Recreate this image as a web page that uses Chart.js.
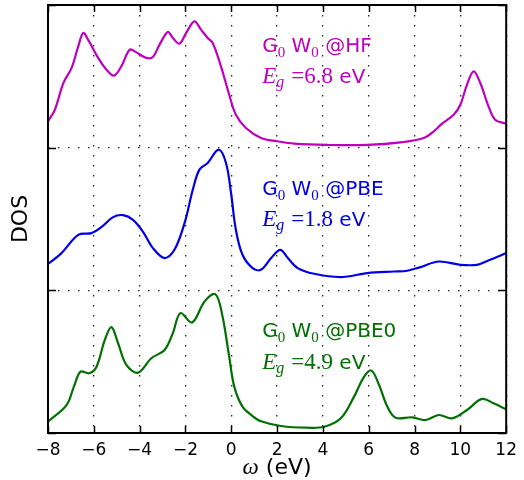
<!DOCTYPE html>
<html>
<head>
<meta charset="utf-8">
<script src="https://cdn.jsdelivr.net/npm/chart.js@4/dist/chart.umd.min.js"></script>
<style>
  html,body{margin:0;padding:0;background:#fff;}
  #wrap{width:524px;height:480px;}
</style>
</head>
<body>
<div id="wrap"><canvas id="c" width="524" height="480"></canvas></div>
<script>
// ---- data (DOS per panel, 0..1 within each panel) ----
const hfX  = [-8, -7.7, -7.33, -6.97, -6.68, -6.46, -6.25, -5.81, -5.45, -5.12, -4.8, -4.43, -4.14, -3.71, -3.42, -3.13, -2.77, -2.55, -2.26, -1.97, -1.61, -1.32, -1.03, -0.81, -0.45, -0.09, 0.2, 0.64, 1.3, 2.0, 2.75, 4.2, 5.94, 7.39, 8.4, 8.84, 9.2, 9.71, 10.0, 10.29, 10.58, 10.87, 11.23, 11.52, 12];
const hfY  = [0.184, 0.266, 0.453, 0.559, 0.710, 0.804, 0.757, 0.629, 0.547, 0.505, 0.570, 0.687, 0.668, 0.629, 0.636, 0.722, 0.811, 0.769, 0.729, 0.804, 0.885, 0.827, 0.769, 0.734, 0.570, 0.371, 0.231, 0.138, 0.068, 0.045, 0.028, 0.019, 0.019, 0.037, 0.068, 0.115, 0.168, 0.231, 0.301, 0.442, 0.535, 0.453, 0.289, 0.196, 0.168];

const pbeX = [-8, -7.41, -6.68, -6.1, -5.67, -5.16, -4.72, -4.29, -3.86, -3.42, -2.91, -2.48, -2.04, -1.68, -1.39, -1.03, -0.55, -0.23, -0.01, 0.2, 0.49, 0.93, 1.29, 1.74, 2.14, 2.47, 2.9, 3.62, 4.78, 5.94, 7.1, 7.68, 8.26, 9.06, 10.0, 10.73, 11.3, 12];
const pbeY = [0.185, 0.261, 0.389, 0.401, 0.443, 0.513, 0.527, 0.494, 0.412, 0.296, 0.226, 0.284, 0.471, 0.705, 0.846, 0.893, 0.986, 0.893, 0.682, 0.425, 0.249, 0.156, 0.144, 0.226, 0.284, 0.226, 0.156, 0.116, 0.093, 0.121, 0.132, 0.137, 0.163, 0.202, 0.179, 0.179, 0.214, 0.261];

const pbe0X = [-8, -7.19, -6.87, -6.58, -6.2, -5.88, -5.52, -5.23, -4.94, -4.58, -4.07, -3.49, -2.91, -2.55, -2.22, -1.71, -1.17, -0.7, -0.41, -0.09, 0.13, 0.49, 0.93, 1.3, 2.17, 3.33, 4.06, 4.78, 5.36, 5.8, 6.12, 6.45, 6.81, 7.17, 7.9, 8.48, 9.06, 9.64, 10.29, 10.94, 11.45, 12];
const pbe0Y = [0.08, 0.196, 0.325, 0.430, 0.419, 0.465, 0.653, 0.742, 0.629, 0.477, 0.423, 0.524, 0.582, 0.700, 0.840, 0.774, 0.921, 0.973, 0.840, 0.535, 0.325, 0.185, 0.119, 0.082, 0.049, 0.037, 0.044, 0.103, 0.255, 0.395, 0.437, 0.337, 0.185, 0.107, 0.110, 0.091, 0.126, 0.103, 0.161, 0.239, 0.208, 0.166];

const seriesNames = ['HF', 'PBE', 'PBE0'];
const panelOffsets = [2, 1, 0];
const gapValues = ['6.8', '1.8', '4.9'];
const xTicks = [-8, -6, -4, -2, 0, 2, 4, 6, 8, 10, 12];
const yTicks = [0, 1, 2, 3];
const colors = ['#bf00bf', '#0000e6', '#007000'];

const sets = [[hfX, hfY], [pbeX, pbeY], [pbe0X, pbe0Y]];

const datasets = sets.map(([xs, ys], i) => ({
  label: seriesNames[i],
  data: xs.map((x, k) => ({x: x, y: ys[k] + panelOffsets[i]})),
  borderColor: colors[i],
  borderWidth: 2.2,
  pointRadius: 0,
  fill: false,
  tension: 0.35
}));

const SANS = '"DejaVu Sans", sans-serif';
const SERIF = '"Liberation Serif", "DejaVu Serif", serif';

function drawParts(ctx, x, y, parts) {
  let cx = x;
  parts.forEach(p => {
    ctx.font = p.f;
    cx += (p.dx || 0);
    ctx.fillText(p.t, cx, y + (p.dy || 0));
    cx += ctx.measureText(p.t).width;
  });
  return cx - x;
}
function partsWidth(ctx, parts) {
  let w = 0;
  parts.forEach(p => { ctx.font = p.f; w += (p.dx || 0) + ctx.measureText(p.t).width; });
  return w;
}

const overlay = {
  id: 'overlay',
  afterDraw(chart) {
    const {ctx, chartArea: a, scales: {x, y}} = chart;
    ctx.save();
    // frame
    ctx.strokeStyle = '#000';
    ctx.lineWidth = 2;
    ctx.strokeRect(a.left, a.top, a.width, a.height);
    // inward ticks
    ctx.lineWidth = 1.5;
    ctx.beginPath();
    xTicks.forEach(v => {
      const px = Math.round(x.getPixelForValue(v)) + 0.5;
      ctx.moveTo(px, a.bottom); ctx.lineTo(px, a.bottom - 7);
      ctx.moveTo(px, a.top); ctx.lineTo(px, a.top + 7);
    });
    yTicks.forEach(v => {
      const py = Math.round(y.getPixelForValue(v)) + 0.5;
      ctx.moveTo(a.left, py); ctx.lineTo(a.left + 8, py);
      ctx.moveTo(a.right, py); ctx.lineTo(a.right - 8, py);
    });
    ctx.stroke();

    // annotations
    ctx.textBaseline = 'alphabetic';
    ctx.textAlign = 'left';
    seriesNames.forEach((name, i) => {
      ctx.fillStyle = colors[i];
      const lx = x.getPixelForValue(1.35);
      const y1 = y.getPixelForValue(panelOffsets[i] + 0.67);
      const y2 = y.getPixelForValue(panelOffsets[i] + 0.45);
      drawParts(ctx, lx, y1, [
        {t: 'G', f: '20px ' + SANS},
        {t: '0', f: '15px ' + SERIF, dy: 5, dx: 0},
        {t: ' W', f: '20px ' + SANS},
        {t: '0', f: '15px ' + SERIF, dy: 5, dx: 0},
        {t: ' @' + name, f: '20px ' + SANS}
      ]);
      drawParts(ctx, lx, y2, [
        {t: 'E', f: 'italic 23px ' + SERIF},
        {t: 'g', f: 'italic 16px ' + SERIF, dy: 4},
        {t: '=' + gapValues[i], f: '23px ' + SERIF, dx: 7},
        {t: ' eV', f: '20px ' + SANS}
      ]);
    });

    // x axis title
    ctx.fillStyle = '#000';
    const tparts = [
      {t: '\u03c9', f: 'italic 23px ' + SERIF},
      {t: ' (eV)', f: '22px ' + SANS}
    ];
    const w = partsWidth(ctx, tparts);
    const cx = (a.left + a.right) / 2;
    drawParts(ctx, cx - w / 2, 474, tparts);
    ctx.restore();
  }
};

new Chart(document.getElementById('c'), {
  type: 'line',
  data: {datasets: datasets},
  options: {
    responsive: false,
    animation: false,
    layout: {padding: {top: 5, right: 16, left: 0, bottom: 0}},
    plugins: {legend: {display: false}, tooltip: {enabled: false}},
    scales: {
      x: {
        type: 'linear', min: -8, max: 12,
        afterBuildTicks: s => { s.ticks = xTicks.map(v => ({value: v})); },
        afterFit: s => { s.height = 47; },
        ticks: {
          color: '#000', font: {family: 'DejaVu Sans', size: 17}, padding: 7,
          maxRotation: 0,
          callback: v => (v < 0 ? '\u2212' + Math.abs(v) : String(v))
        },
        grid: {color: '#222', lineWidth: 1.3, drawTicks: false},
        border: {display: false, dash: [1.5, 8.5]}
      },
      y: {
        type: 'linear', min: 0, max: 3,
        afterBuildTicks: s => { s.ticks = yTicks.map(v => ({value: v})); },
        afterFit: s => { s.width = 48; },
        ticks: {display: false},
        grid: {color: '#222', lineWidth: 1.3, drawTicks: false},
        border: {display: false, dash: [1.5, 8.5]},
        title: {display: true, text: 'DOS', color: '#000', font: {family: 'DejaVu Sans', size: 22}, padding: {top: 8, bottom: 0}}
      }
    }
  },
  plugins: [overlay]
});
</script>
</body>
</html>
